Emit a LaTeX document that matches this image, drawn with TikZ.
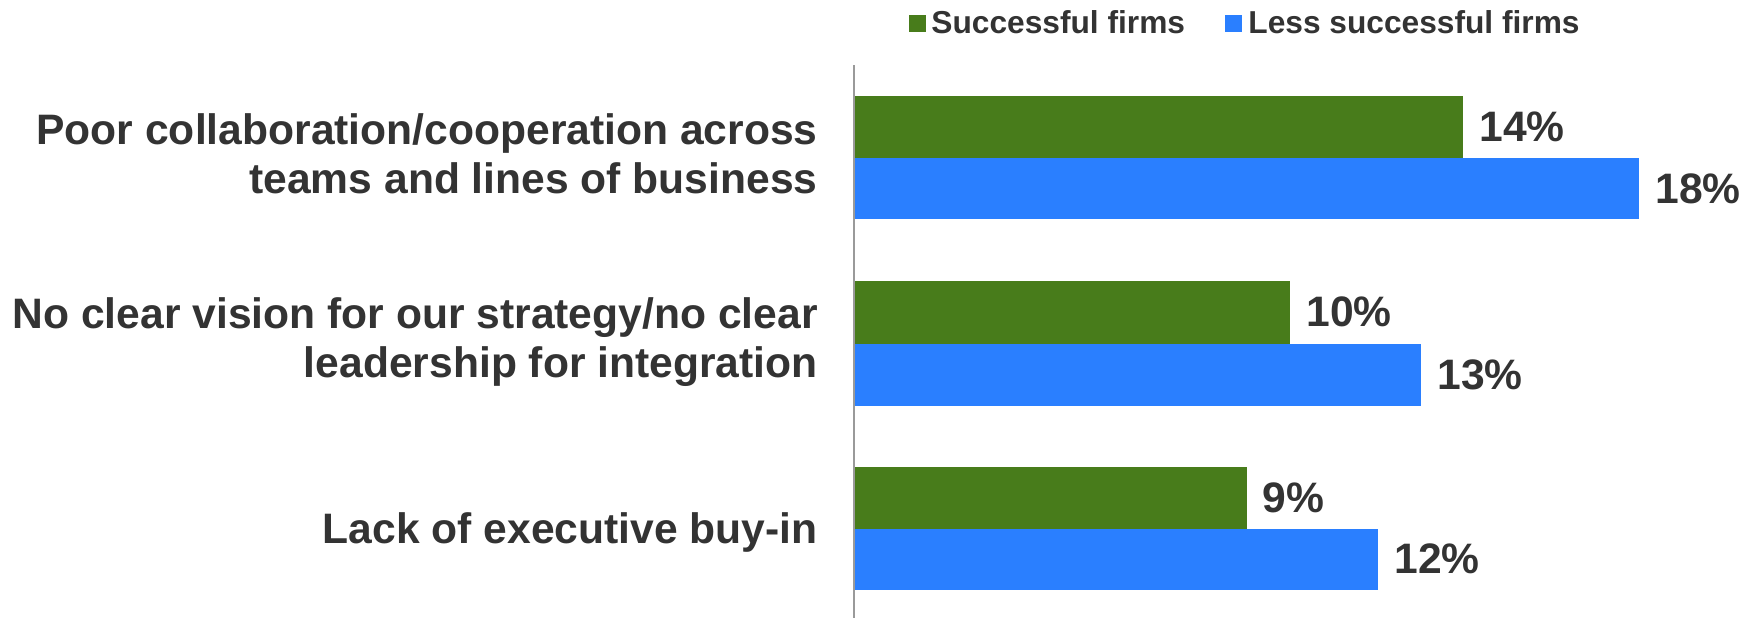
\documentclass[tikz,border=0pt]{standalone}
\usepackage{fontspec}
\setmainfont{Liberation Sans}
\definecolor{gbar}{HTML}{487C1B}
\definecolor{bbar}{HTML}{2A7FFF}
\definecolor{txt}{HTML}{333333}
\definecolor{axisgray}{HTML}{9A9A9A}
\begin{document}
\begin{tikzpicture}[x=0.5pt,y=-0.5pt,
  cat/.style={font=\fontsize{21.3}{24.5}\selectfont\bfseries, text=txt, align=right, anchor=east, inner sep=0pt},
  val/.style={font=\fontsize{21.3}{24.5}\selectfont\bfseries, text=txt, anchor=west, inner sep=0pt},
  leg/.style={font=\fontsize{15.85}{19}\selectfont\bfseries, text=txt, anchor=base west, inner sep=0pt},
  sbar/.style={fill=gbar},
  lbar/.style={fill=bbar}]
\useasboundingbox (0,0) rectangle (1756,618);
\fill[white] (0,0) rectangle (1756,618);
% legend
\fill[sbar] (909,15) rectangle (926,32);
\node[leg] (legS) at (931,33) {Successful firms};
\fill[lbar] (1225,15) rectangle (1242,32);
\node[leg] (legL) at (1248,33) {Less successful firms};
% bars
\fill[sbar] (854,96) rectangle (1463,157.5);
\fill[lbar] (854,157.5) rectangle (1639,219);
\fill[sbar] (854,281) rectangle (1290,343.5);
\fill[lbar] (854,343.5) rectangle (1421,405.5);
\fill[sbar] (854,467) rectangle (1247,528.5);
\fill[lbar] (854,528.5) rectangle (1378,589.5);
% axis
\draw[axisgray, line width=1pt] (854,65) -- (854,618);
% value labels
\node[val] (v1s) at (1479,127) {14\%};
\node[val] (v1l) at (1655,188.5) {18\%};
\node[val] (v2s) at (1306,312) {10\%};
\node[val] (v2l) at (1437,374.5) {13\%};
\node[val] (v3s) at (1262,498) {9\%};
\node[val] (v3l) at (1394,559) {12\%};
% category labels
\node[cat] (c1) at (818,153.5) {Poor collaboration/cooperation across\\teams and lines of business};
\node[cat] (c2) at (818,342) {No clear vision for our strategy/no clear\\leadership for integration};
\node[cat] (c3) at (818,532) {Lack of executive buy-in};
\end{tikzpicture}
\end{document}
